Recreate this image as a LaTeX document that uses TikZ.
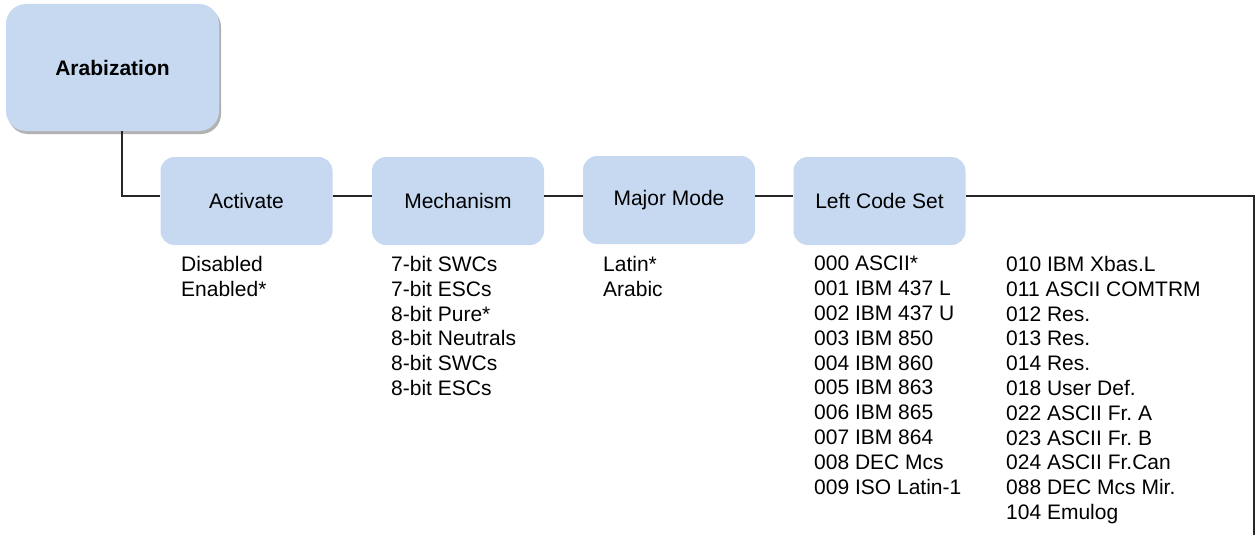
\documentclass[tikz,border=0pt]{standalone}
\usepackage{fontspec}
\setmainfont{Liberation Sans}
\usetikzlibrary{shadows}
\definecolor{boxblue}{RGB}{198,217,241}
\frenchspacing

\begin{document}
\begin{tikzpicture}[x=1pt, y=-1pt,
  menubox/.style={fill=boxblue, rounded corners=14pt, minimum width=172pt,
    minimum height=88pt, inner sep=0pt, font=\fontsize{21}{24.8}\selectfont},
  rootbox/.style={menubox, minimum width=213pt, minimum height=127pt,
    rounded corners=20pt, font=\fontsize{21}{24.8}\selectfont\bfseries,
    drop shadow={shadow xshift=2pt, shadow yshift=-3pt, opacity=0.3, fill=black}},
  opts/.style={anchor=north west, inner sep=0pt, align=left,
    font=\fontsize{21}{24.8}\selectfont},
  link/.style={draw=black!85, line width=1.5pt}]
  \useasboundingbox (0,0) rectangle (1257,535);

  \node[rootbox] (arab) at (112.5,67.5) {Arabization};
  \node[menubox] (act)  at (246.5,201) {Activate};
  \node[menubox] (mech) at (458,201)   {Mechanism};
  \node[menubox] (mode) at (669,200)   {Major Mode};
  \node[menubox] (lcs)  at (879.5,201) {Left Code Set};
  \coordinate (edge) at (1254,535);

  \draw[link] ([xshift=9.5pt]arab.south) |- ([yshift=5pt]act.west);
  \draw[link] ([yshift=5pt]act.east) -- ([yshift=5pt]mech.west);
  \draw[link] ([yshift=5pt]mech.east) -- ([yshift=4pt]mode.west);
  \draw[link] ([yshift=4pt]mode.east) -- ([yshift=5pt]lcs.west);
  \draw[link] ([yshift=5pt]lcs.east) -| (edge);

  \node[opts] (actopts)  at (181,256) {Disabled\\Enabled*};
  \node[opts] (mechopts) at (391,256) {7-bit SWCs\\7-bit ESCs\\8-bit Pure*\\
    8-bit Neutrals\\8-bit SWCs\\8-bit ESCs};
  \node[opts] (modeopts) at (603,256) {Latin*\\Arabic};
  \node[opts] (lcsopts)  at (814,256) {000 ASCII*\\001 IBM 437 L\\002 IBM 437 U\\
    003 IBM 850\\004 IBM 860\\005 IBM 863\\006 IBM 865\\007 IBM 864\\
    008 DEC Mcs\\009 ISO Latin-1};
  \node[opts] (lcsmore)  at (1006,256) {010 IBM Xbas.L\\011 ASCII COMTRM\\
    012 Res.\\013 Res.\\014 Res.\\018 User Def.\\022 ASCII Fr. A\\
    023 ASCII Fr. B\\024 ASCII Fr.Can\\088 DEC Mcs Mir.\\104 Emulog};
\end{tikzpicture}
\end{document}
